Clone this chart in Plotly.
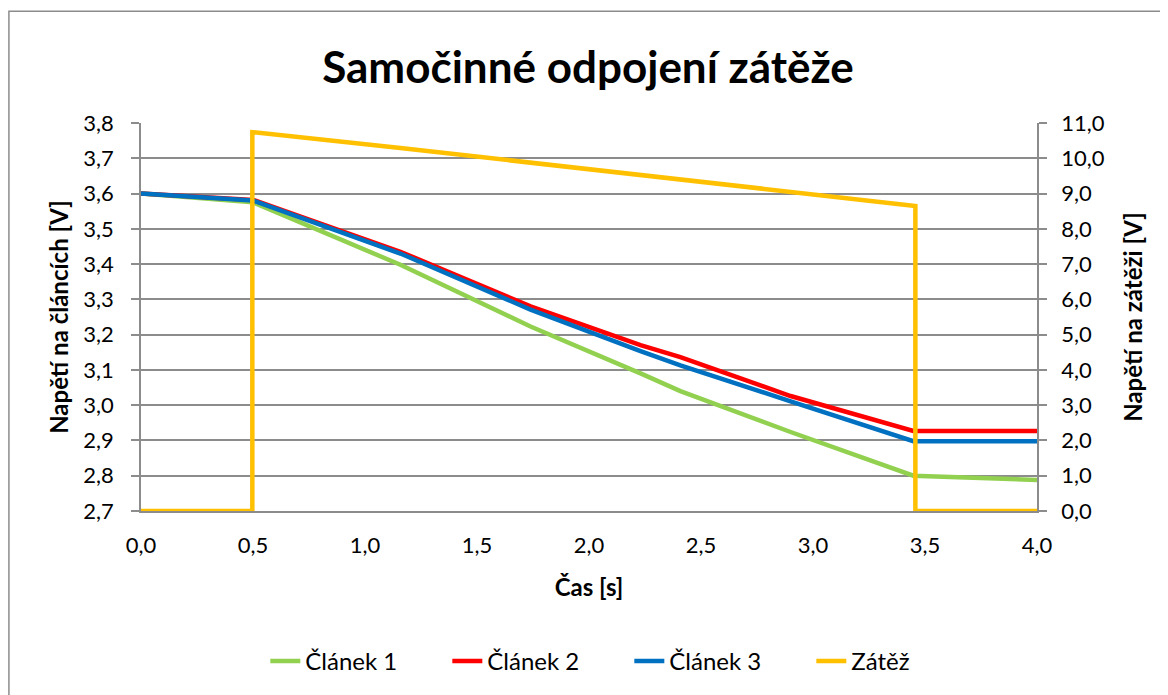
import plotly.graph_objects as go

# Data
t_cells = [0.0, 0.5, 1.158, 1.739, 2.23, 2.408, 2.9, 3.448, 4.0]
clanek1 = [3.600, 3.575, 3.398, 3.223, 3.090, 3.040, 2.924, 2.800, 2.788]
clanek2 = [3.600, 3.582, 3.435, 3.280, 3.170, 3.136, 3.026, 2.927, 2.927]
clanek3 = [3.600, 3.580, 3.430, 3.271, 3.153, 3.113, 3.011, 2.898, 2.898]

t_load = [0.0, 0.497, 0.497, 1.158, 3.457, 3.457, 4.0]
zatez = [0.0, 0.0, 10.74, 10.29, 8.65, 0.0, 0.0]

x_ticks = [0.0, 0.5, 1.0, 1.5, 2.0, 2.5, 3.0, 3.5, 4.0]

FONT = "Lato"
GRID = "#8c8c8c"

fig = go.Figure()
fig.add_trace(go.Scatter(x=t_cells, y=clanek1, name="Článek 1", mode="lines",
                         line=dict(color="#92D050", width=4.5)))
fig.add_trace(go.Scatter(x=t_cells, y=clanek2, name="Článek 2", mode="lines",
                         line=dict(color="#FF0000", width=4.5)))
fig.add_trace(go.Scatter(x=t_cells, y=clanek3, name="Článek 3", mode="lines",
                         line=dict(color="#0070C0", width=4.5)))
fig.add_trace(go.Scatter(x=t_load, y=zatez, name="Zátěž", mode="lines", yaxis="y2",
                         line=dict(color="#FFC000", width=4.5)))

# page has an 8px body margin; work in figure coordinates
OFF = 8
W, H = 1160, 687
L = 140.6 - OFF
T = 122.7 - OFF
R = W - (1036.7 - OFF)
B = H - (512.3 - OFF)
pw = W - L - R
ph = H - T - B

def px(x):
    return (x - OFF - L) / pw

def py(y):
    return (H - B - (y - OFF)) / ph

AXT = dict(family=FONT, size=24, color="black")

fig.update_layout(
    width=W, height=H,
    margin=dict(l=L, r=R, t=T, b=B),
    paper_bgcolor="white", plot_bgcolor="white",
    separators=", ",
    font=dict(family=FONT, size=22, color="black"),
    title=dict(text="<b>Samočinné odpojení zátěže</b>", x=0.5, xanchor="center",
               y=1 - (68 - OFF) / H, yanchor="middle", font=dict(size=44, family=FONT)),
    showlegend=True,
    legend=dict(orientation="h", x=0.545, xanchor="center", y=py(662), yanchor="middle",
                font=dict(family=FONT, size=24), traceorder="normal",
                entrywidth=137, bgcolor="rgba(0,0,0,0)"),
    xaxis=dict(range=[0, 4], tickvals=x_ticks, tickformat=".1f", showgrid=False,
               showline=True, linecolor=GRID, linewidth=1.5, ticks="", zeroline=False,
               title=dict(text="<b>Čas [s]</b>", standoff=22, font=AXT),
               ticklabelstandoff=14),
    yaxis=dict(range=[2.7, 3.8], dtick=0.1, tickformat=".1f", showgrid=True,
               gridcolor=GRID, gridwidth=1.5, showline=True, linecolor=GRID, linewidth=1.5,
               ticks="outside", ticklen=8, tickcolor=GRID, tickwidth=1.5, zeroline=False,
               ticklabelstandoff=13,
               title=dict(text="<b>Napětí na článcích [V]</b>", standoff=8, font=AXT)),
    yaxis2=dict(range=[0, 11], dtick=1, tickformat=".1f", overlaying="y", side="right",
                showgrid=False, showline=True, linecolor=GRID, linewidth=1.5,
                ticks="outside", ticklen=8, tickcolor=GRID, tickwidth=1.5, zeroline=False,
                ticklabelstandoff=10,
                title=dict(text="<b>Napětí na zátěži [V]</b>", standoff=22, font=AXT)),
    shapes=[dict(type="rect", xref="paper", yref="paper",
                 x0=px(8.5), x1=px(1175), y0=py(705), y1=py(10.5),
                 line=dict(color="#8c8c8c", width=1.5), layer="below")],
)

fig.write_html("out.html")
